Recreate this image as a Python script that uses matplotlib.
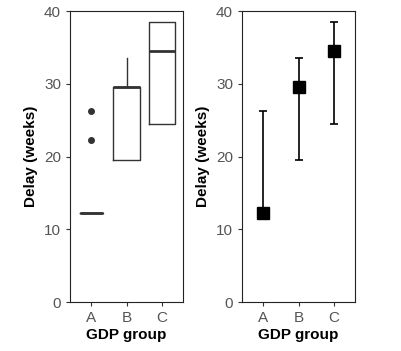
import numpy as np
import matplotlib.pyplot as plt

plt.rcParams['font.family'] = ['Liberation Sans', 'DejaVu Sans']

groups = ['A', 'B', 'C']
# box summaries (weeks)
q1 = [12.2, 19.5, 24.5]
med = [12.2, 29.6, 34.5]
q3 = [12.2, 29.6, 38.5]
whisk_lo = [12.2, 19.5, 24.5]
whisk_hi = [12.2, 33.6, 38.5]
outliers = [[22.3, 26.3], [], []]
# range shown in the right panel
rng_lo = [12.2, 19.5, 24.5]
rng_hi = [26.3, 33.6, 38.5]

fig = plt.figure(figsize=(4.01, 3.51), dpi=100)
ax1 = fig.add_axes([0.1746, 0.1396, 0.2818, 0.829])
ax2 = fig.add_axes([0.6035, 0.1396, 0.2818, 0.829])

pos = np.arange(1, len(groups) + 1)
stats = []
for i, g in enumerate(groups):
    stats.append(dict(label=g, med=med[i], q1=q1[i], q3=q3[i],
                      whislo=whisk_lo[i], whishi=whisk_hi[i], fliers=outliers[i]))
ax1.bxp(stats, positions=pos, widths=[0.65, 0.75, 0.75], showcaps=False,
        boxprops=dict(color='#333333', linewidth=1.0),
        medianprops=dict(color='#333333', linewidth=2.0),
        whiskerprops=dict(color='#333333', linewidth=1.0),
        flierprops=dict(marker='o', markerfacecolor='#333333', markeredgecolor='#333333',
                        markersize=4))

ax2.errorbar(pos, med, yerr=[np.array(med) - np.array(rng_lo), np.array(rng_hi) - np.array(med)],
             fmt='none', ecolor='black', elinewidth=1.2, capsize=3, capthick=1.2)
ax2.plot(pos, med, 's', color='black', markersize=9)

for ax in (ax1, ax2):
    ax.set_xlim(0.4, 3.6)
    ax.set_ylim(0, 40)
    ax.set_xticks(pos)
    ax.set_xticklabels(groups)
    ax.set_yticks([0, 10, 20, 30, 40])
    ax.tick_params(labelcolor='#555555', labelsize=11, length=3, width=0.8, color='#333333')
    for s in ax.spines.values():
        s.set_color('#222222')
        s.set_linewidth(0.8)
    ax.set_xlabel('GDP group', fontsize=11, fontweight='bold', labelpad=2)
    ax.set_ylabel('Delay (weeks)', fontsize=11, fontweight='bold', labelpad=4)

fig.savefig('out.png', dpi=100)
